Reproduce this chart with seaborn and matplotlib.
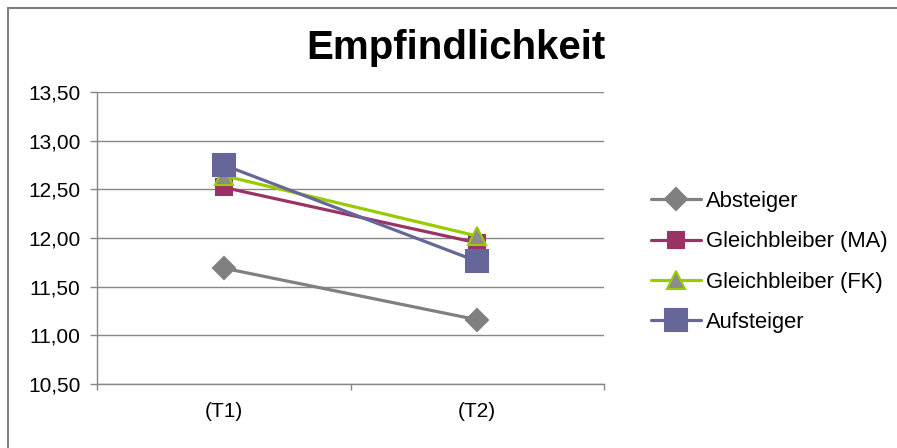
import matplotlib
matplotlib.use("Agg")
import matplotlib.pyplot as plt
from matplotlib.lines import Line2D
from matplotlib.ticker import FixedLocator, FuncFormatter
import seaborn as sns
import pandas as pd

# Messzeitpunkte und Mittelwerte je Gruppe
zeitpunkte = ["(T1)", "(T2)"]
absteiger = [11.69, 11.16]
gleichbleiber_ma = [12.52, 11.95]
gleichbleiber_fk = [12.64, 12.02]
aufsteiger = [12.75, 11.76]

gruppen = ["Absteiger", "Gleichbleiber (MA)", "Gleichbleiber (FK)", "Aufsteiger"]
werte = [absteiger, gleichbleiber_ma, gleichbleiber_fk, aufsteiger]

sns.set_theme(style="white")
plt.rcParams["font.family"] = ["Liberation Sans", "DejaVu Sans"]
plt.rcParams["text.color"] = "black"

df = pd.DataFrame(
    [(g, t, v) for g, vals in zip(gruppen, werte) for t, v in zip(zeitpunkte, vals)],
    columns=["Gruppe", "Zeitpunkt", "Wert"],
)

stile = {
    "Absteiger": dict(color="#808080", marker="D", ms=11, mfc="#808080", mec="#808080"),
    "Gleichbleiber (MA)": dict(color="#993366", marker="s", ms=12, mfc="#993366", mec="#993366"),
    "Gleichbleiber (FK)": dict(color="#99CC00", marker="^", ms=13, mfc="#8C8C8C", mec="#99CC00"),
    "Aufsteiger": dict(color="#666699", marker="s", ms=16, mfc="#666699", mec="#666699"),
}

fig = plt.figure(figsize=(8.97, 4.48), dpi=100)
ax = fig.add_axes([97 / 897, 64 / 448, 507 / 897, 292 / 448])

for g in gruppen:
    s = stile[g]
    sns.lineplot(
        data=df[df["Gruppe"] == g], x="Zeitpunkt", y="Wert", ax=ax,
        color=s["color"], marker=s["marker"], markersize=s["ms"],
        markerfacecolor=s["mfc"], markeredgecolor=s["mec"], markeredgewidth=1.5,
        linewidth=2.3, label=g, sort=False,
    )

grau = "#868686"
ax.set_xlim(-0.5, 1.5)
ax.set_ylim(10.5, 13.5)
ax.yaxis.set_major_locator(FixedLocator([10.5, 11, 11.5, 12, 12.5, 13, 13.5]))
ax.yaxis.set_major_formatter(FuncFormatter(lambda v, p: f"{v:.2f}".replace(".", ",")))
ax.grid(axis="y", color=grau, linewidth=1)
ax.set_axisbelow(True)
ax.set_xlabel("")
ax.set_ylabel("")
for side in ("top", "right"):
    ax.spines[side].set_visible(False)
for side in ("left", "bottom"):
    ax.spines[side].set_color(grau)
    ax.spines[side].set_linewidth(1)

ax.tick_params(axis="y", which="major", length=5, width=1, color=grau, direction="out",
               pad=7, labelsize=15, labelcolor="black", left=True)
ax.tick_params(axis="x", which="major", length=0, pad=13, labelsize=15, labelcolor="black")
ax.xaxis.set_minor_locator(FixedLocator([-0.5, 0.5, 1.5]))
ax.tick_params(axis="x", which="minor", length=4, width=1, color=grau, direction="out", bottom=True)

fig.text(456 / 897, 1 - 48 / 448, "Empfindlichkeit", ha="center", va="center",
         fontsize=29, fontweight="bold", color="black")

handles, labels = ax.get_legend_handles_labels()
leg = ax.legend(handles, labels, loc="upper left", bbox_to_anchor=(651 / 897, 1 - 191 / 448),
                bbox_transform=fig.transFigure, frameon=False, fontsize=15.8,
                handlelength=2.3, handletextpad=0.2, labelspacing=0.88, borderpad=0,
                borderaxespad=0)
for t in leg.get_texts():
    t.set_color("black")

# Rahmen oben und links
fig.add_artist(Line2D([8 / 897, 8 / 897], [0, 1 - 8 / 448], transform=fig.transFigure,
                      color="#808080", linewidth=1.5))
fig.add_artist(Line2D([8 / 897, 1], [1 - 8 / 448, 1 - 8 / 448], transform=fig.transFigure,
                      color="#808080", linewidth=1.5))

fig.savefig("out.png", dpi=100)
